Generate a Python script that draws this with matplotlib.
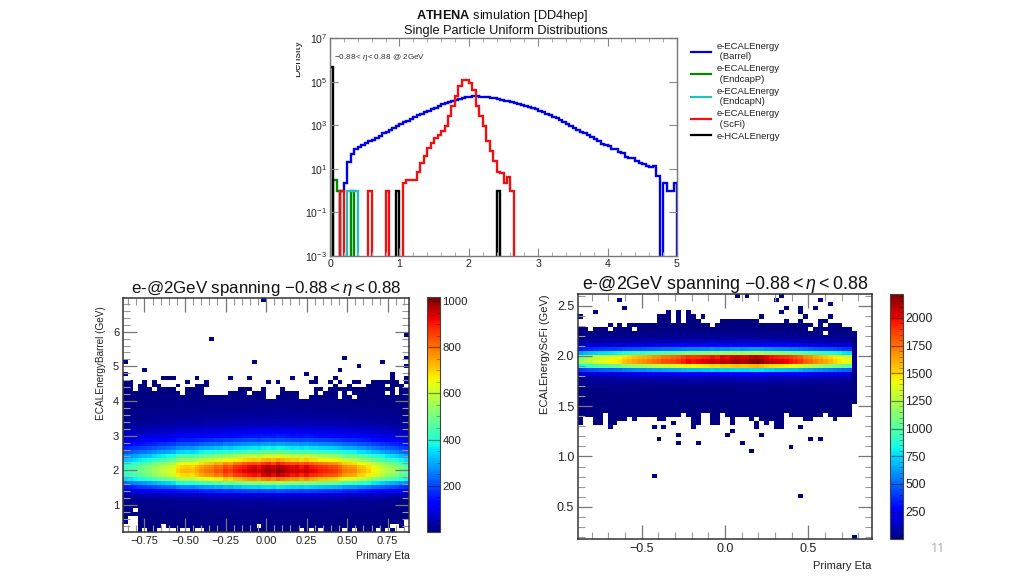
import numpy as np
import matplotlib
matplotlib.use("Agg")
import matplotlib.pyplot as plt
from matplotlib.ticker import MultipleLocator, FixedLocator
from matplotlib.transforms import Bbox

plt.rcParams.update({
    'font.family': 'Liberation Sans',
    'mathtext.fontset': 'custom',
    'mathtext.rm': 'Liberation Sans',
    'mathtext.it': 'Liberation Sans:italic',
    'mathtext.bf': 'Liberation Sans:bold',
    'axes.unicode_minus': True,
})

# ---------- 1-D energy histograms (100 bins 0-5 GeV), log10 of density
blue_log = [None, None, None, 0, .33, 1.29, 1.7, 1.89, 2.0, 2.08, 2.2, 2.27, 2.34, 2.43, 2.52, 2.62, 2.71, 2.8, 2.89, 2.97,
            3.05, 3.13, 3.21, 3.29, 3.37, 3.45, 3.53, 3.6, 3.67, 3.74, 3.81, 3.88, 3.95, 4.0, 4.06, 4.11, 4.17, 4.22, 4.26, 4.29,
            4.31, 4.32, 4.32, 4.31, 4.30, 4.28, 4.26, 4.23, 4.20, 4.17, 4.13, 4.10, 4.06, 4.02, 3.97, 3.93, 3.88, 3.83, 3.78, 3.73,
            3.65, 3.59, 3.53, 3.46, 3.39, 3.31, 3.23, 3.15, 3.06, 2.98, 2.89, 2.80, 2.71, 2.62, 2.53, 2.44, 2.35, 2.26, 2.16, 2.08,
            2.05, 1.93, 1.90, 1.78, 1.72, 1.55, 1.50, 1.50, 1.36, 1.25, 1.22, 1.12, 1.08, 1.12, .65, None, .33, 0, 0, .33]
red_log = {3: 0, 11: 0, 16: 0, 21: .33, 22: .5, 23: .5, 24: .5, 25: .84, 26: 1.25, 27: 1.58, 28: 1.96, 29: 2.19, 30: 2.43,
           31: 2.57, 32: 2.72, 33: 2.95, 34: 3.4, 35: 3.86, 36: 4.35, 37: 4.8, 38: 5.08, 39: 5.08, 40: 4.93, 41: 4.63,
           42: 3.86, 43: 3.4, 44: 2.95, 45: 2.27, 46: 1.81, 47: 1.35, 48: .85, 49: .8, 50: .33, 51: .64, 52: 0}
green_log = {1: .5, 2: 0, 6: 0}
cyan_log = {5: 0, 6: 0, 7: 0}
black_log = {0: 5.69, 19: 0, 48: 0}
hist_labels = ['e-ECALEnergy\n (Barrel)', 'e-ECALEnergy\n (EndcapP)', 'e-ECALEnergy\n (EndcapN)',
               'e-ECALEnergy\n (ScFi)', 'e-HCALEnergy']
hist_colors = ['#0000e6', '#008a00', '#22c0c0', '#ee1111', '#000000']

# ---------- Barrel heat map (60 x 60 bins)
bar_col_peak = [430, 450, 470, 490, 510, 530, 560, 580, 600, 620, 640, 700, 720, 730, 720, 750, 780, 800, 810, 840,
                830, 880, 860, 900, 910, 930, 950, 960, 940, 980, 1000, 970, 1017, 990, 970, 950, 960, 930, 960, 930,
                920, 900, 890, 880, 870, 840, 800, 790, 780, 740, 730, 700, 660, 640, 610, 580, 560, 540, 500, 470]
bar_row_rel = [.004, .005, .006, .008, .01, .012, .018, .025, .04, .09, .2, .36, .55, .80, .95, 1.0, .97, .88, .74, .62,
               .48, .38, .29, .21, .15, .11, .08, .055, .04, .03, .022, .017, .012, .009, .006, .004, .003, .002, .002, .002,
               .002, .002, .002, .002, .002, .002, .002, .002, .002, .002, .002, .002, .002, .002, .002, .002, .002, .002, .002, .002]
bar_top = [39, 39, 36, 38, 39, 37, 39, 38, 37, 37, 37, 36, 36, 37, 37, 38, 38, 38, 35, 36,
           35, 35, 36, 36, 37, 37, 37, 36, 36, 37, 36, 36, 35, 37, 36, 36, 36, 34, 34, 35,
           37, 37, 36, 37, 38, 37, 37, 38, 37, 37, 37, 38, 39, 39, 39, 39, 41, 39, 38, 40]
bar_holes = [(30, 34), (31, 34), (41, 35), (45, 35), (45, 34), (47, 35), (48, 34), (55, 37), (55, 35), (57, 36), (57, 35),
             (59, 37), (6, 36), (17, 36), (17, 35), (12, 35), (19, 35), (26, 35), (30, 35), (31, 35),
             (0, 0), (0, 1), (1, 0), (1, 1), (1, 2), (1, 3), (2, 0), (2, 1), (2, 2), (2, 3), (2, 5), (4, 0), (7, 0), (8, 0), (8, 1),
             (9, 0), (10, 0), (12, 0), (13, 0), (15, 0), (16, 0), (28, 1), (37, 0), (39, 0), (41, 0), (46, 0), (48, 0),
             (53, 0), (55, 0), (56, 1), (57, 0), (57, 1), (58, 0), (59, 0), (59, 1), (59, 2)]
bar_extra = [(29, 59), (46, 44), (49, 42), (54, 43), (59, 44), (59, 42), (59, 50), (45, 41), (38, 40), (35, 39), (32, 38), (30, 38),
             (40, 39), (39, 38), (40, 38), (43, 38), (44, 39), (45, 38), (48, 38), (49, 38), (0, 43), (0, 40), (4, 41), (18, 49),
             (27, 43), (8, 39), (9, 39), (10, 39), (11, 37), (13, 38), (15, 39), (17, 38), (22, 39), (26, 39)]

# ---------- ScFi heat map (60 x 60 bins)
sc_col_peak = [1150, 1230, 1280, 1330, 1380, 1400, 1430, 1450, 1480, 1560, 1600, 1640, 1660, 1680, 1720, 1760, 1780, 1830, 1840, 1860,
               1890, 1950, 2000, 1980, 2000, 2020, 2040, 2080, 2050, 2120, 2100, 2150, 2170, 2130, 2140, 2200, 2216, 2180, 2120, 2080,
               2050, 2030, 2000, 1970, 1930, 1880, 1800, 1760, 1700, 1660, 1620, 1580, 1530, 1480, 1420, 1380, 50, 0, 0, 0]
sc_row_rel = [.001] * 28 + [.002, .002, .002, .003, .004, .004, .005, .006, .008, .015, .03, .06, .13, .35, .72, 1.0, .95, .55,
                            .28, .12, .05, .025, .01, .004, .003, .002, .002, .002, .002, .002, .002, .002]
sc_top = [52, 52, 51, 52, 52, 52, 53, 52, 53, 52, 53, 53, 53, 53, 53, 53, 55, 55, 54, 53,
          55, 53, 54, 54, 53, 53, 53, 52, 53, 54, 54, 54, 54, 54, 54, 54, 54, 53, 53, 53,
          53, 53, 54, 53, 54, 54, 53, 53, 52, 54, 54, 53, 53, 53, 52, 52, 51, 0, 0, 0]
sc_bottom = [28, 30, 30, 28, 28, 31, 27, 28, 29, 29, 30, 29, 30, 30, 30, 30, 29, 29, 30, 30,
             30, 31, 30, 28, 28, 31, 31, 28, 28, 31, 30, 28, 30, 30, 30, 28, 28, 29, 28, 29,
             27, 27, 31, 30, 30, 30, 29, 29, 30, 30, 31, 30, 29, 30, 30, 30, 33, 60, 60, 60]
sc_holes = [(6, 51), (11, 51), (44, 53), (47, 51), (48, 52), (50, 52), (50, 50), (38, 53), (36, 29), (35, 28)]
sc_extra = [(0, 54), (3, 55), (8, 58), (9, 56), (32, 59), (34, 59), (18, 55), (20, 55), (22, 55), (22, 54), (20, 54), (18, 54),
            (17, 54), (16, 54), (23, 54), (25, 54), (24, 53), (41, 59), (40, 58), (49, 58), (51, 57), (48, 56), (45, 56), (42, 56),
            (41, 55), (45, 55), (37, 54), (46, 54), (51, 54),
            (15, 15), (15, 27), (17, 27), (16, 24), (19, 28), (20, 25), (20, 23), (23, 27), (24, 23), (30, 25), (31, 26),
            (33, 23), (35, 21), (6, 27), (56, 0), (45, 10), (43, 22), (37, 25), (47, 24), (49, 24), (45, 27), (36, 27)]

W, H = 1024, 576
fig = plt.figure(figsize=(W / 100, H / 100), dpi=100, facecolor='white')


def ax_px(x0, y0, x1, y1):
    return fig.add_axes([x0 / W, 1 - y1 / H, (x1 - x0) / W, (y1 - y0) / H])


def ftext(x, y, s, **kw):
    return fig.text(x / W, 1 - y / H, s, **kw)


# ---------- top histogram
ax = ax_px(330, 38, 677, 256)
edges = np.linspace(0, 5, 101)


def to_counts(src):
    out = np.full(100, 1e-6)
    items = src.items() if isinstance(src, dict) else enumerate(src)
    for k, v in items:
        if v is not None:
            out[k] = 10.0 ** v
    return out


series = [blue_log, green_log, cyan_log, red_log, black_log]
handles = []
for s, c, lab in zip(series, hist_colors, hist_labels):
    ax.stairs(to_counts(s), edges, baseline=1e-6, color=c, lw=1.7, label=lab)
    handles.append(plt.Line2D([], [], color=c, lw=1.6))
ax.set_xlim(0, 5)
ax.set_yscale('log')
ax.set_ylim(1e-3, 1e7)
ax.xaxis.set_major_locator(MultipleLocator(1))
ax.xaxis.set_minor_locator(MultipleLocator(0.2))
ax.yaxis.set_major_locator(FixedLocator([1e-3, 1e-1, 1e1, 1e3, 1e5, 1e7]))
ax.yaxis.set_minor_locator(FixedLocator([]))
ax.tick_params(which='major', direction='in', length=6, width=.8, color='#888888', top=True, right=True,
               labelsize=7.6, pad=2, labelcolor='#222222')
ax.tick_params(which='minor', direction='in', length=3, width=.7, color='#aaaaaa', top=True, right=True)
for sp in ax.spines.values():
    sp.set_color('#777777')
    sp.set_linewidth(1.0)
ax.text(0.012, 0.91, r'$-0.88 < \eta < 0.88$ @ 2GeV', transform=ax.transAxes, fontsize=5.9, color='#333333', va='center')
fig.legend(handles, hist_labels, loc='upper left', bbox_to_anchor=(691 / W, 1 - 42 / H), frameon=False, fontsize=6.8,
           handlelength=2.1, handletextpad=.63, labelspacing=.32, borderpad=0, borderaxespad=0, labelcolor='#222222')

ftext(502, 15.5, r'$\mathbf{ATHENA}$ simulation [DD4hep]', ha='center', va='center', fontsize=9.15, color='#111111')
ftext(505.5, 31, 'Single Particle Uniform Distributions', ha='center', va='center', fontsize=9.15, color='#111111')
dens = ftext(302, 58, 'Density', rotation=90, ha='right', va='center', fontsize=8, color='#222222')
dens.set_clip_box(Bbox([[296, 0], [400, 576]]))
dens.set_clip_on(True)


def heat(col_peak, row_rel, top, bottom, holes, extra):
    m = np.outer(np.array(row_rel, float), np.array(col_peak, float))
    for i in range(60):
        m[top[i]:, i] = 0
        m[:bottom[i], i] = 0
    for i, j in extra:
        m[j, i] = 1.0
    for i, j in holes:
        m[j, i] = 0
    return np.ma.masked_less_equal(m, 0)


def draw_map(box, cbox, mat, xl, yl, vmax, xmaj, xmin, ymaj, ymin, tickfs, cbticks, cbminor, cbfs):
    a = ax_px(*box)
    xe = np.linspace(xl[0], xl[1], 61)
    ye = np.linspace(yl[0], yl[1], 61)
    q = a.pcolormesh(xe, ye, mat, cmap='jet', vmin=0, vmax=vmax, linewidth=0)
    a.set_xlim(*xl)
    a.set_ylim(*yl)
    a.xaxis.set_major_locator(MultipleLocator(xmaj))
    a.xaxis.set_minor_locator(MultipleLocator(xmin))
    a.yaxis.set_major_locator(MultipleLocator(ymaj))
    a.yaxis.set_minor_locator(MultipleLocator(ymin))
    a.tick_params(which='major', direction='in', length=10, width=.9, color='#777777', top=True, right=True,
                  labelsize=tickfs, pad=3, labelcolor='#222222')
    a.tick_params(which='minor', direction='in', length=5, width=.8, color='#999999', top=True, right=True)
    for sp in a.spines.values():
        sp.set_color('#333333')
        sp.set_linewidth(1.1)
    c = ax_px(*cbox)
    cb = fig.colorbar(q, cax=c)
    cb.set_ticks(cbticks)
    cb.ax.yaxis.set_minor_locator(MultipleLocator(cbminor))
    cb.ax.tick_params(which='major', direction='in', length=9, width=.9, color=(0, 0, 0, .45), labelsize=cbfs, pad=2, labelcolor='#222222')
    cb.ax.tick_params(which='minor', direction='in', length=3, width=.6, color=(0, 0, 0, .35))
    cb.outline.set_edgecolor('#444444')
    cb.outline.set_linewidth(.8)
    return a


bar = heat(bar_col_peak, bar_row_rel, bar_top, [0] * 60, bar_holes, bar_extra)
sc = heat(sc_col_peak, sc_row_rel, sc_top, sc_bottom, sc_holes, sc_extra)

draw_map((123.3, 297.7, 408.9, 531.7), (427.3, 297.3, 439.8, 531.7), bar, (-.88, .88), (.23, 6.98), 1017,
         .25, .05, 1, .2, 8, [200, 400, 600, 800, 1000], 50, 8.1)
draw_map((578.3, 294, 871.7, 539.3), (889.7, 294, 902.7, 539.3), sc, (-.88, .88), (.176, 2.616), 2216,
         .5, .1, .5, .1, 9, [250, 500, 750, 1000, 1250, 1500, 1750, 2000], 50, 8.85)

title = r'e-@2GeV spanning $-0.88 < \eta < 0.88$'
ftext(266.5, 288.5, title, ha='center', va='center', fontsize=12.2, color='#111111')
ftext(725, 284.5, title, ha='center', va='center', fontsize=12.9, color='#111111')
ftext(101.5, 363, 'ECALEnergyBarrel (GeV)', rotation=90, ha='center', va='center', fontsize=7.2, color='#222222')
ftext(544.5, 354, 'ECALEnergyScFi (GeV)', rotation=90, ha='center', va='center', fontsize=8, color='#222222')
ftext(410, 556, 'Primary Eta', ha='right', va='center', fontsize=7.4, color='#222222')
ftext(871, 566, 'Primary Eta', ha='right', va='center', fontsize=8, color='#222222')
ftext(938.5, 549, '11', ha='center', va='center', fontsize=9, color='#aaaaaa', family='Open Sans')

fig.savefig('out.png', dpi=100)
